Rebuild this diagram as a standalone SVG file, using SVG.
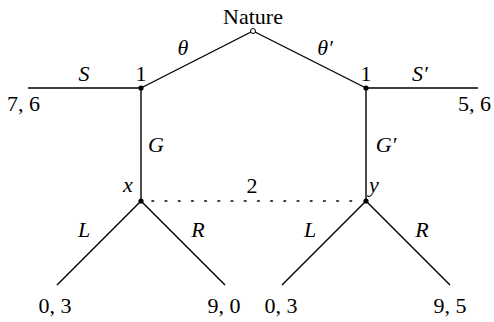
<svg xmlns="http://www.w3.org/2000/svg" width="494" height="322" viewBox="0 0 494 322">
<style>
text{font-family:'Liberation Serif','DejaVu Serif',serif;font-size:22px;fill:#000}
.i{font-style:italic}
.m{text-anchor:middle}
.e{stroke:#000;stroke-width:1.4;fill:none}
.d{stroke:#000;stroke-width:1.6;fill:none;stroke-dasharray:1.6 11.6;stroke-linecap:round}
</style>
<rect width="494" height="322" fill="#fff"/>
<g id="connectors">
<line class="e" x1="253" y1="31" x2="141" y2="88"/>
<line class="e" x1="253" y1="31" x2="366" y2="88"/>
<line class="e" x1="28" y1="88" x2="141" y2="88"/>
<line class="e" x1="366" y1="88" x2="478" y2="88"/>
<line class="e" x1="141" y1="88" x2="141" y2="201"/>
<line class="e" x1="366" y1="88" x2="366" y2="201"/>
<line class="e" x1="141" y1="201" x2="57" y2="285"/>
<line class="e" x1="141" y1="201" x2="225" y2="285"/>
<line class="e" x1="366" y1="201" x2="282" y2="285"/>
<line class="e" x1="366" y1="201" x2="450" y2="285"/>
<line class="d" x1="152" y1="201" x2="356" y2="201"/>
<text class="i m" x="183" y="55">θ</text>
<text class="i m" x="325" y="55">θ′</text>
<text class="i m" x="84" y="81">S</text>
<text class="i m" x="420" y="81">S′</text>
<text class="i m" x="156" y="152">G</text>
<text class="i m" x="386" y="152">G′</text>
<text class="i m" x="84" y="237">L</text>
<text class="i m" x="198" y="237">R</text>
<text class="i m" x="310" y="237">L</text>
<text class="i m" x="422" y="237">R</text>
</g>
<g id="nature"><circle cx="253" cy="31" r="2.5" fill="#fff" stroke="#000" stroke-width="1"/><text class="m" x="253" y="24">Nature</text></g>
<g id="n1l"><circle cx="141" cy="88" r="2.6"/><text class="m" x="141" y="81">1</text></g>
<g id="n1r"><circle cx="366" cy="88" r="2.6"/><text class="m" x="366" y="81">1</text></g>
<g id="nx"><circle cx="141" cy="201" r="2.6"/><text class="i m" x="128" y="192">x</text></g>
<g id="ny"><circle cx="366" cy="201" r="2.6"/><text class="i m" x="374" y="192">y</text></g>
<g id="info2"><text class="m" x="252" y="193">2</text></g>
<g id="t76"><text x="7" y="111">7, 6</text></g>
<g id="t56"><text x="491" y="111" text-anchor="end">5, 6</text></g>
<g id="t03a"><text class="m" x="55" y="313">0, 3</text></g>
<g id="t90"><text class="m" x="224" y="313">9, 0</text></g>
<g id="t03b"><text class="m" x="281" y="313">0, 3</text></g>
<g id="t95"><text class="m" x="450" y="313">9, 5</text></g>
</svg>
